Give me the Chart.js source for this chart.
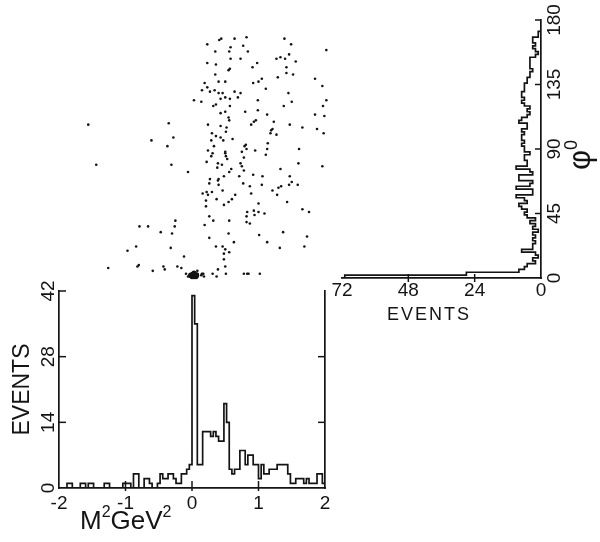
<!DOCTYPE html>
<html>
<head>
<meta charset="utf-8">
<script src="https://cdn.jsdelivr.net/npm/chart.js@4.4.0/dist/chart.umd.min.js"></script>
<style>
  html, body { margin: 0; padding: 0; background: #fff; }
  #wrap { position: relative; width: 600px; height: 542px; }
  #wrap canvas { position: absolute; left: 0; top: 0; }
</style>
</head>
<body>
<div id="wrap">
  <canvas id="histM" width="600" height="542"></canvas>
  <canvas id="histPhi" width="600" height="542"></canvas>
  <canvas id="scatter" width="600" height="542"></canvas>
</div>
<script>
// bottom histogram: events per M^2 bin (0.04 GeV^2 wide, from -2)
const m2Ticks = [-2, -1, 0, 1, 2];
const m2EventTicks = [0, 14, 28, 42];
const m2BinStart = -2;
const m2BinWidth = 0.04;
const m2Counts = [
  0, 0, 0, 1, 1, 0, 0, 0, 1, 1,
  0, 1, 1, 0, 0, 0, 0, 1, 1, 0,
  0, 0, 0, 0, 1, 1, 1, 0, 3, 3,
  0, 0, 2, 2, 1, 0, 0, 1, 3, 2,
  2, 3, 3, 2, 1, 1, 3, 3, 4, 5,
  41, 35, 5, 5, 12, 12, 12, 11, 12, 11,
  10, 10, 18, 14, 4, 3, 4, 4, 8, 8,
  5, 7, 7, 5, 5, 2, 5, 3, 3, 4,
  4, 4, 5, 5, 5, 5, 3, 1, 1, 2,
  2, 2, 1, 2, 1, 1, 1, 3, 3, 1
];

// right histogram: events per phi bin (2 degrees wide, from 0)
const phiTicks = [0, 45, 90, 135, 180];
const phiEventTicks = [0, 24, 48, 72];
const phiBinWidth = 2;
const phiCounts = [
  71, 27, 8, 6, 5, 2, 3, 1, 2, 7,
  3, 3, 2, 3, 2, 3, 1, 3, 2, 4,
  2, 5, 6, 5, 7, 8, 5, 6, 9, 3,
  3, 9, 4, 3, 8, 8, 3, 4, 9, 5,
  5, 6, 6, 4, 6, 6, 7, 6, 7, 7,
  6, 7, 5, 5, 8, 7, 5, 4, 5, 4,
  6, 7, 6, 7, 7, 6, 6, 6, 5, 5,
  4, 4, 3, 4, 4, 4, 4, 2, 1, 2,
  3, 2, 3, 3, 1, 1, 0, 0, 0, 0
];

// scatter: M^2 vs phi, one entry per event
const scatterM2 = [
  0.23, 0.23, 0.19, 0.23, 0.15, 0.27, 0.03, 0.14, -1.56, -0.35,
  0.24, -0.61, -0.28, -0.37, 0.24, 0.44, 0.41, 0.64, 0.82, 1.39,
  0.58, 0.77, 1.49, 0.35, 0.56, 0.84, 2.02, 1.46, 0.58, 0.73,
  1.27, 1.33, 1.40, 1.56, 0.36, 0.98, 0.91, 1.42, 0.55, 0.57,
  0.35, 1.42, 1.52, 1.29, 1.05, 1.85, 0.40, 0.50, 0.92, 1.00,
  1.96, 1.11, 0.34, 0.40, 0.46, 0.64, 0.73, 1.45, 0.69, 0.43,
  0.50, 0.57, 0.99, 1.50, 2.02, 0.36, 0.32, 0.57, 1.38, 1.97,
  0.80, 0.99, 0.43, 0.50, 1.13, 1.85, 1.99, 0.55, 0.56, 0.96,
  0.93, 0.89, 1.23, 0.43, 0.52, 1.47, 1.66, 1.21, 0.30, 0.51,
  1.19, 1.18, 1.27, 1.88, 1.98, 0.36, 0.43, 0.47, 0.61, 0.29,
  0.81, 0.79, 0.33, 1.14, 0.82, 0.95, 1.13, 1.61, 0.50, 0.75,
  0.31, 0.29, 0.50, 0.51, 0.78, 1.11, -1.44, -0.31, -0.06, 0.22,
  0.27, 0.26, 0.16, 0.22, 0.24, 0.21, 0.21, 0.26, -0.25, -0.26,
  -0.79, -0.66, -0.47, -0.30, 0.19, 0.26, -0.84, -0.97, -0.32, -0.12,
  -0.80, -0.82, -1.26, -0.59, -0.43, -0.41, -0.22, -0.16, 0.08, 0.15,
  -0.09, -0.06, 0.53, 0.39, 0.38, 0.45, 0.73, 0.75, 1.60, 1.96,
  0.59, 0.56, 0.78, 1.33, 0.92, 0.71, 0.48, 1.47, 1.06, 0.40,
  0.39, 1.50, 0.40, 0.77, 0.87, 1.05, 1.30, 1.34, 1.46, 1.59,
  1.21, 0.30, 0.46, 0.89, 0.65, 1.28, 0.37, 0.60, 0.55, 0.48,
  1.43, 1.00, 1.66, 1.76, 0.93, 0.83, 1.00, 1.09, 0.94, 0.82,
  0.32, 0.56, 0.82, 0.87, 1.37, 0.55, 1.01, 1.73, 0.63, 1.13,
  0.36, 0.46, 0.50, 0.56, 1.32, 1.69, 0.48, 0.48, 0.50, 0.39,
  0.17, 0.14, 0.18, 0.31, 0.37, 0.51, 0.78, 0.83, 0.85, 1.02,
  0.08, -0.03
];
const scatterPhi = [
  163, 150, 136, 133, 131, 130, 124, 123, 107, 108,
  107, 96, 98, 92, 89, 167, 166, 167, 168, 167,
  161, 162, 163, 158, 158, 158, 159, 156, 153, 153,
  153, 154, 153, 151, 149, 150, 147, 147, 145, 146,
  142, 143, 142, 140, 139, 139, 137, 137, 136, 137,
  134, 132, 131, 129, 129, 130, 129, 129, 126, 125,
  126, 125, 124, 123, 124, 121, 120, 120, 120, 120,
  116, 117, 115, 116, 114, 114, 113, 112, 110, 110,
  109, 107, 109, 106, 105, 107, 105, 104, 101, 102,
  103, 101, 100, 104, 101, 99, 98, 96, 97, 96,
  93, 92, 92, 94, 90, 89, 90, 90, 88, 88,
  87, 85, 87, 85, 84, 86, 79, 79, 74, 81,
  69, 66, 59, 60, 58, 54, 50, 43, 40, 36,
  36, 36, 32, 31, 37, 28, 22, 19, 21, 15,
  9, 8, 7, 5, 8, 6, 8, 7, 5, 3,
  3, 1, 83, 80, 77, 79, 80, 78, 80, 78,
  76, 74, 75, 76, 72, 71, 71, 71, 71, 69,
  68, 67, 65, 66, 64, 65, 63, 64, 65, 65,
  61, 60, 61, 59, 58, 58, 55, 55, 53, 51,
  53, 52, 48, 46, 47, 46, 46, 45, 44, 43,
  40, 40, 39, 38, 32, 31, 30, 29, 25, 25,
  22, 22, 20, 18, 21, 22, 17, 13, 8, 6,
  3, 2, 1, 3, 1, 3, 3, 3, 3, 3,
  3, 1
];
// the dense clump of events at M^2 ~ 0, phi ~ 0
const clumpM2 = [0.0, 0.03, 0.06, 0.01, 0.04, 0.07, -0.02, 0.03];
const clumpPhi = [1, 1, 1, 2.5, 2.5, 2, 2, 3.5];

const FONT = '"Liberation Sans", Arial, sans-serif';
const INK = '#141414';

// short tick marks pointing into the plot, like the original drawing
const inTicks = {
  id: 'inTicks',
  afterDraw(chart, args, opts) {
    const ctx = chart.ctx;
    ctx.save();
    ctx.strokeStyle = INK;
    ctx.lineWidth = 1.5;
    (opts.marks || []).forEach(m => {
      const s = chart.scales[m.scale];
      s.ticks.forEach(t => {
        if (m.skip && m.skip.includes(t.value)) return;
        const p = s.getPixelForValue(t.value);
        ctx.beginPath();
        if (s.isHorizontal()) {
          ctx.moveTo(p, s.top + m.from);
          ctx.lineTo(p, s.top + m.to);
        } else {
          const x0 = s.position === 'left' ? s.right : s.left;
          ctx.moveTo(x0 + m.from, p);
          ctx.lineTo(x0 + m.to, p);
        }
        ctx.stroke();
      });
    });
    ctx.restore();
  }
};

// text with superscripts, e.g. M²GeV² and φ⁰
function drawRich(ctx, parts, x, y) {
  let cx = x;
  parts.forEach(([t, size, rise]) => {
    ctx.font = size + 'px ' + FONT;
    ctx.fillText(t, cx, y - rise);
    cx += ctx.measureText(t).width;
  });
}

const captions = {
  id: 'captions',
  afterDraw(chart, args, opts) {
    const ctx = chart.ctx;
    ctx.save();
    ctx.fillStyle = INK;
    ctx.textBaseline = 'alphabetic';
    ctx.textAlign = 'left';
    if (opts.which === 'm2') {
      drawRich(ctx, [['M', 26, 0], ['2', 16, 12], ['GeV', 26, 0], ['2', 16, 12]], 80, 529);
    } else if (opts.which === 'phi') {
      ctx.font = '18px ' + FONT;
      ctx.letterSpacing = '2px';
      ctx.textAlign = 'center';
      ctx.fillText('EVENTS', 429, 320);
      ctx.letterSpacing = '0px';
      ctx.textAlign = 'left';
      ctx.translate(575, 170);
      ctx.rotate(-Math.PI / 2);
      drawRich(ctx, [['φ', 31, 0], ['0', 18, 13]], 0, 15);
    }
    ctx.restore();
  }
};

function fixedTicks(list) {
  return s => { s.ticks = list.map(v => ({ value: v })); };
}

const common = {
  responsive: false,
  animation: false,
  devicePixelRatio: 1,
  events: []
};

// ---- bottom histogram ----
const mLine = [{ x: m2BinStart, y: 0 }];
m2Counts.forEach((c, i) => {
  const lo = m2BinStart + i * m2BinWidth;
  mLine.push({ x: lo, y: c }, { x: lo + m2BinWidth, y: c });
});
mLine.push({ x: m2BinStart + m2Counts.length * m2BinWidth, y: 0 });

new Chart(document.getElementById('histM'), {
  type: 'scatter',
  data: {
    datasets: [{
      data: mLine,
      showLine: true,
      borderColor: INK,
      borderWidth: 1.7,
      pointRadius: 0,
      fill: false
    }]
  },
  options: {
    ...common,
    layout: { padding: { left: 9, right: 275, top: 291, bottom: 14 } },
    plugins: {
      legend: { display: false },
      tooltip: { enabled: false },
      inTicks: {
        marks: [
          { scale: 'x', from: -7, to: 3, skip: [-2, 2] },
          { scale: 'y', from: 0, to: 7, skip: [0] },
          { scale: 'yR', from: -7, to: 0, skip: [0, 42] }
        ]
      },
      captions: { which: 'm2' }
    },
    scales: {
      x: {
        type: 'linear', min: -2, max: 2,
        afterBuildTicks: fixedTicks(m2Ticks),
        afterFit: s => { s.height = 40; },
        grid: { display: false, drawTicks: false },
        border: { display: true, color: INK, width: 1.7 },
        ticks: { color: INK, font: { family: FONT, size: 19 }, padding: 4, maxRotation: 0 }
      },
      y: {
        type: 'linear', min: 0, max: 42,
        afterBuildTicks: fixedTicks(m2EventTicks),
        afterFit: s => { s.width = 50; },
        grid: { display: false, drawTicks: false },
        border: { display: true, color: INK, width: 1.7 },
        ticks: { color: INK, font: { family: FONT, size: 19 }, padding: 0, minRotation: 90, maxRotation: 90, crossAlign: 'center' },
        title: { display: true, text: 'EVENTS', color: INK, font: { family: FONT, size: 23 }, padding: 0 }
      },
      yR: {
        type: 'linear', position: 'right', min: 0, max: 42,
        afterBuildTicks: fixedTicks(m2EventTicks),
        afterFit: s => { s.width = 0; },
        grid: { display: false, drawTicks: false },
        border: { display: true, color: INK, width: 1.7 },
        ticks: { display: false }
      }
    }
  },
  plugins: [inTicks, captions]
});

// ---- right histogram (turned on its side) ----
const phiLine = [{ x: 0, y: 0 }];
phiCounts.forEach((c, i) => {
  const lo = i * phiBinWidth;
  phiLine.push({ x: c, y: lo }, { x: c, y: lo + phiBinWidth });
});
phiLine.push({ x: 0, y: phiCounts.length * phiBinWidth });

new Chart(document.getElementById('histPhi'), {
  type: 'scatter',
  data: {
    datasets: [{
      data: phiLine,
      showLine: true,
      borderColor: INK,
      borderWidth: 1.7,
      pointRadius: 0,
      fill: false
    }]
  },
  options: {
    ...common,
    layout: { padding: { left: 342, right: 29, top: 20, bottom: 234 } },
    plugins: {
      legend: { display: false },
      tooltip: { enabled: false },
      inTicks: {
        marks: [
          { scale: 'x', from: -4, to: 4, skip: [0, 72] },
          { scale: 'y', from: -6, to: 0, skip: [0] }
        ]
      },
      captions: { which: 'phi' }
    },
    scales: {
      x: {
        type: 'linear', min: 0, max: 72, reverse: true,
        afterBuildTicks: fixedTicks(phiEventTicks),
        afterFit: s => { s.height = 30; },
        grid: { display: false, drawTicks: false },
        border: { display: true, color: INK, width: 1.7 },
        ticks: { color: INK, font: { family: FONT, size: 19 }, padding: 1, maxRotation: 0 }
      },
      y: {
        type: 'linear', position: 'right', min: 0, max: 180,
        afterBuildTicks: fixedTicks(phiTicks),
        afterFit: s => { s.width = 30; },
        grid: { display: false, drawTicks: false },
        border: { display: true, color: INK, width: 1.7 },
        ticks: { color: INK, font: { family: FONT, size: 19 }, padding: -2, minRotation: 90, maxRotation: 90, crossAlign: 'center' }
      }
    }
  },
  plugins: [inTicks, captions]
});

// ---- scatter plot, sharing the M^2 and phi scales ----
new Chart(document.getElementById('scatter'), {
  type: 'scatter',
  data: {
    datasets: [
      {
        data: scatterM2.map((m, i) => ({ x: m, y: scatterPhi[i] })),
        backgroundColor: INK,
        borderWidth: 0,
        pointRadius: 1.3
      },
      {
        data: clumpM2.map((m, i) => ({ x: m, y: clumpPhi[i] })),
        backgroundColor: INK,
        borderWidth: 0,
        pointRadius: 2.6
      }
    ]
  },
  options: {
    ...common,
    clip: false,
    layout: { padding: { left: 59, right: 275, top: 20, bottom: 264 } },
    plugins: { legend: { display: false }, tooltip: { enabled: false } },
    scales: {
      x: { type: 'linear', min: -2, max: 2, display: false },
      y: { type: 'linear', min: 0, max: 180, display: false }
    }
  }
});
</script>
</body>
</html>
